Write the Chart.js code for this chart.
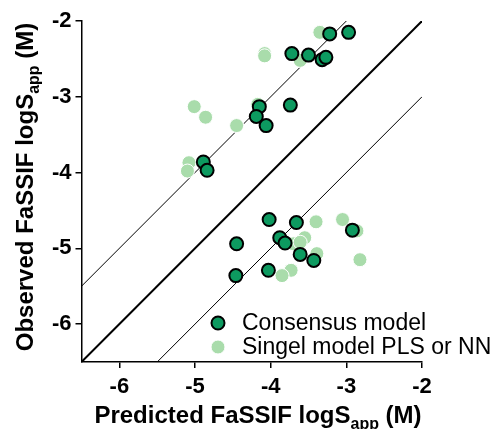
<!DOCTYPE html>
<html lang="en">
<head>
  <meta charset="UTF-8" />
  <title>FaSSIF logS predicted vs observed</title>
  <script src="https://cdn.jsdelivr.net/npm/chart.js"></script>
  <style>
    html, body { margin: 0; padding: 0; background: #fff; }
  </style>
</head>
<body>
  <canvas id="chart" width="503" height="429"></canvas>

  <script>
    // consensus model points (predicted, observed)
    const consX = [-3.22, -2.97, -3.72, -3.50, -3.32, -3.27, -4.15, -3.74, -4.19, -4.06, -4.89, -4.84,
                   -4.02, -3.66, -2.92, -4.45, -3.88, -3.81, -3.61, -3.43, -4.03, -4.46];
    const consY = [-2.17, -2.15, -2.43, -2.45, -2.51, -2.48, -3.13, -3.11, -3.26, -3.38, -3.86, -3.97,
                   -4.62, -4.66, -4.76, -4.94, -4.86, -4.93, -5.08, -5.16, -5.29, -5.36];

    // single model (PLS or NN) points
    const singleX = [-3.35, -4.08, -4.08, -3.61, -5.01, -4.86, -4.45, -4.17, -5.08, -5.10,
                     -3.40, -3.05, -2.86, -3.55, -3.70, -3.61, -3.39, -2.82, -3.73, -3.85];
    const singleY = [-2.15, -2.43, -2.46, -2.52, -3.13, -3.27, -3.38, -3.10, -3.87, -3.98,
                     -4.65, -4.62, -4.77, -4.86, -4.94, -4.92, -5.07, -5.15, -5.29, -5.36];

    // reference lines: identity and +/- 1 log unit
    const diagX = [-6.5, -2], diagY = [-6.5, -2];
    const upperX = [-6.5, -3], upperY = [-5.5, -2];
    const lowerX = [-5.5, -2], lowerY = [-6.5, -3];

    const axisMin = -6.5, axisMax = -2;
    const tickValues = [-6, -5, -4, -3, -2];

    const legendLabels = ['Consensus model', 'Singel model PLS or NN'];

    const pts = (xs, ys) => xs.map((x, i) => ({ x: x, y: ys[i] }));
    const FONT = '"Liberation Sans", Arial, Helvetica, sans-serif';

    const lineSet = (xs, ys, w) => ({
      type: 'line',
      data: pts(xs, ys),
      borderColor: '#000',
      borderWidth: w,
      pointRadius: 0,
      fill: false,
      order: 3
    });

    // axis titles with subscript + legend inside plot
    const decor = {
      id: 'decor',
      afterDraw(chart) {
        const ctx = chart.ctx;

        function title(x, y, rotate) {
          const parts = [['Predicted FaSSIF logS', false], ['app', true], [' (M)', false]];
          if (rotate) parts[0][0] = 'Observed FaSSIF logS';
          const big = 'bold 24px ' + FONT, small = 'bold 16px ' + FONT;
          ctx.save();
          ctx.translate(x, y);
          if (rotate) ctx.rotate(-Math.PI / 2);
          let total = 0;
          parts.forEach(p => { ctx.font = p[1] ? small : big; total += ctx.measureText(p[0]).width; });
          let cx = -total / 2;
          ctx.fillStyle = '#000';
          ctx.textBaseline = 'alphabetic';
          ctx.textAlign = 'left';
          parts.forEach(p => {
            ctx.font = p[1] ? small : big;
            ctx.fillText(p[0], cx, p[1] ? 6 : 0);
            cx += ctx.measureText(p[0]).width;
          });
          ctx.restore();
        }
        title(258, 423, false);
        title(33, 187, true);

        // legend
        const sets = [chart.data.datasets[0], chart.data.datasets[1]];
        const rows = [323, 347];
        ctx.save();
        sets.forEach((ds, i) => {
          ctx.beginPath();
          ctx.arc(218, rows[i], ds.pointRadius, 0, Math.PI * 2);
          ctx.fillStyle = ds.backgroundColor;
          ctx.fill();
          ctx.lineWidth = ds.borderWidth;
          ctx.strokeStyle = ds.borderColor;
          ctx.stroke();
          ctx.fillStyle = '#000';
          ctx.font = '23px ' + FONT;
          ctx.textBaseline = 'middle';
          ctx.textAlign = 'left';
          ctx.fillText(legendLabels[i], 242, rows[i] + 1);
        });
        ctx.restore();
      }
    };

    const axisCommon = {
      type: 'linear',
      min: axisMin,
      max: axisMax,
      afterBuildTicks: s => { s.ticks = tickValues.map(v => ({ value: v })); },
      border: { display: true, color: '#000', width: 1.5 },
      grid: { drawOnChartArea: false, drawTicks: true, tickLength: 6, color: '#000', lineWidth: 1.5 },
      ticks: {
        color: '#000',
        font: { family: FONT, size: 22, weight: 'bold' },
        callback: v => String(v)
      }
    };

    new Chart(document.getElementById('chart'), {
      type: 'scatter',
      data: {
        datasets: [
          {
            label: legendLabels[0],
            data: pts(consX, consY),
            backgroundColor: '#0d9a60',
            borderColor: '#000',
            borderWidth: 2,
            pointRadius: 6.5,
            order: 1
          },
          {
            label: legendLabels[1],
            data: pts(singleX, singleY),
            backgroundColor: '#a9dcab',
            borderColor: '#fff',
            borderWidth: 1,
            pointRadius: 7,
            order: 2
          },
          lineSet(diagX, diagY, 2),
          lineSet(upperX, upperY, 1),
          lineSet(lowerX, lowerY, 1)
        ]
      },
      options: {
        responsive: false,
        animation: false,
        devicePixelRatio: 1,
        layout: { padding: { top: 21, right: 81, left: 0, bottom: 0 } },
        plugins: { legend: { display: false }, tooltip: { enabled: false } },
        scales: {
          x: Object.assign({}, axisCommon, {
            position: 'bottom',
            afterFit: s => { s.height = 67; },
            ticks: Object.assign({}, axisCommon.ticks, { padding: 6 })
          }),
          y: Object.assign({}, axisCommon, {
            position: 'left',
            afterFit: s => { s.width = 81.5; },
            ticks: Object.assign({}, axisCommon.ticks, { padding: 4 })
          })
        }
      },
      plugins: [decor]
    });
  </script>
</body>
</html>
